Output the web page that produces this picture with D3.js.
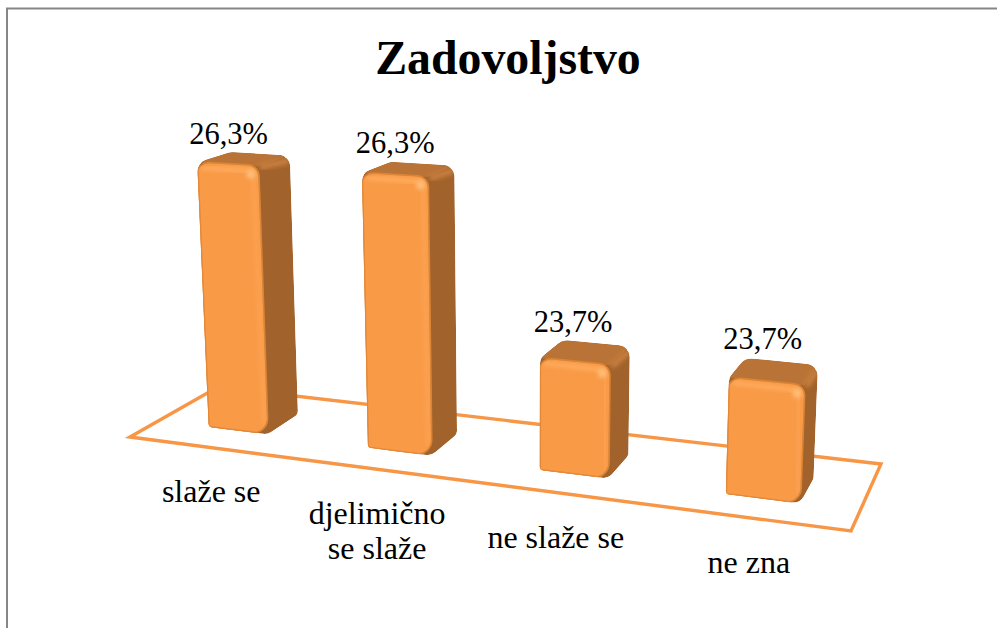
<!DOCTYPE html>
<html><head><meta charset="utf-8">
<script src="https://cdn.jsdelivr.net/npm/d3@7/dist/d3.min.js"></script>
<style>html,body{margin:0;padding:0;background:#fff}svg{display:block}text{font-family:"Liberation Serif",serif;fill:#000}</style>
</head><body><svg id="c" width="997" height="628"></svg>
<script>
const titleText = "Zadovoljstvo";
const categories = ["slaže se", "djelimično se slaže", "ne slaže se", "ne zna"];
const categoryLines = [["slaže se"], ["djelimično", "se slaže"], ["ne slaže se"], ["ne zna"]];
const values = [26.3, 26.3, 23.7, 23.7];
const valueLabels = ["26,3%", "26,3%", "23,7%", "23,7%"];

const svg = d3.select("#c");
const W = 997, H = 628;
const ORANGE = "#F79646", SIDE = "#A1622B", TOP = "#BA7336", LIGHT = "#FFAE60";

// frame: only top and left edges fall in the picture
svg.append("path").attr("d", `M7,${H}V8.5H${W}`).attr("fill", "none").attr("stroke", "#868686").attr("stroke-width", 2);

// floor projection: unit square (u along categories, v into depth) -> picture
const wOf = (u, v) => 1 - 0.1456 * u + 0.0941 * v;
function floorPt(u, v) {
  const w = wOf(u, v);
  return [(597.1 * u + 108.5 * v + 130) / w, (16.7 * u - 13.6 * v + 437) / w];
}
function project(u, v, h) {
  const [x, y] = floorPt(u, v);
  const hh = h / wOf(u, v);
  return [x + (x - 530) * 0.000135 * hh, y - hh];
}

const uScale = d3.scaleBand().domain(categories).range([0.082, 0.926]).paddingInner(0.624);
const vFront = d3.scaleLinear().domain([0, 1]).range([0.31, 0.27]);
const barDepth = 0.38;
const hScale = d3.scaleLinear().domain([22.03, 26.3]).range([0, 269]);

// floor outline
svg.append("path")
  .attr("d", d3.line()([floorPt(0,0), floorPt(1,0), floorPt(1,1), floorPt(0,1)]) + "Z")
  .attr("fill", "none").attr("stroke", ORANGE).attr("stroke-width", 3.4).attr("stroke-linejoin", "miter");

function rounded(pts, radii) {
  const p = d3.path(), n = pts.length;
  const a = pts[0], b = pts[1];
  p.moveTo((a[0] + b[0]) / 2, (a[1] + b[1]) / 2);
  for (let i = 1; i <= n; i++) {
    const c = pts[i % n], d = pts[(i + 1) % n];
    p.arcTo(c[0], c[1], d[0], d[1], radii[i % n]);
  }
  p.closePath();
  return p.toString();
}

const defs = svg.append("defs");
defs.append("filter").attr("id", "soft").attr("x", "-30%").attr("y", "-30%").attr("width", "160%").attr("height", "160%")
  .append("feGaussianBlur").attr("stdDeviation", 2.2);
defs.append("filter").attr("id", "soft1").attr("x", "-30%").attr("y", "-30%").attr("width", "160%").attr("height", "160%")
  .append("feGaussianBlur").attr("stdDeviation", 0.7);

categories.forEach((cat, i) => {
  const u0 = uScale(cat), u1 = u0 + uScale.bandwidth();
  const v0 = vFront(u0), v1 = v0 + barDepth;
  const h = hScale(values[i]);
  const fl = project(u0, v0, h), fr = project(u1, v0, h), bl = project(u0, v1, h), br = project(u1, v1, h);
  const flb = floorPt(u0, v0), frb = floorPt(u1, v0), brb = floorPt(u1, v1);
  const g = svg.append("g");

  const sil = [flb, frb, brb, br, bl, fl];
  const silD = rounded(sil, [4, 12, 7, 12, 14, 12]);
  const clipS = defs.append("clipPath").attr("id", "s" + i);
  clipS.append("path").attr("d", silD);
  const clipF = defs.append("clipPath").attr("id", "f" + i);
  const frontD = rounded([flb, frb, fr, fl], [4, 14, 11, 11]);
  clipF.append("path").attr("d", frontD);

  const body = g.append("g").attr("clip-path", `url(#s${i})`);
  body.append("path").attr("d", silD).attr("fill", SIDE);
  body.append("path").attr("d", d3.line()([fl, fr, br, bl]) + "Z").attr("fill", TOP);
  // lighter strip where the top meets the side
  body.append("path").attr("d", d3.line()([[fr[0] + 2, fr[1] + 1], [br[0] - 1, br[1] + 5]]))
    .attr("stroke", "#C9803F").attr("stroke-width", 6).attr("fill", "none").attr("filter", "url(#soft)");
  // soft shoulder around the front face
  body.append("path").attr("d", frontD).attr("fill", "none").attr("stroke", "#D98537").attr("stroke-width", 3).attr("filter", "url(#soft1)");

  const face = g.append("g").attr("clip-path", `url(#f${i})`);
  face.append("path").attr("d", frontD).attr("fill", "#F99A47");
  // darker rim along the bottom and left
  face.append("path").attr("d", d3.line()([fl, flb, frb]))
    .attr("fill", "none").attr("stroke", "#E48839").attr("stroke-width", 2.5).attr("filter", "url(#soft1)");
  // bevel highlights
  face.append("path").attr("d", d3.line()([[fl[0] + 4, fl[1] + 5], [fr[0] - 5, fr[1] + 5]]))
    .attr("fill", "none").attr("stroke", LIGHT).attr("stroke-width", 4).attr("filter", "url(#soft)");
  face.append("path").attr("d", d3.line()([[fr[0] - 5, fr[1] + 5], [frb[0] - 3, frb[1] - 10]]))
    .attr("fill", "none").attr("stroke", LIGHT).attr("stroke-width", 3).attr("stroke-opacity", .55).attr("filter", "url(#soft)");
  face.append("circle").attr("cx", fr[0] - 7).attr("cy", fr[1] + 8).attr("r", 4.5)
    .attr("fill", "#FFC07A").attr("filter", "url(#soft)");

  // value label
  const lab = project(u0 + uScale.bandwidth() * 0.5, v1, h);
  svg.append("text").attr("x", lab[0] - 31.5 + i * 4.3).attr("y", lab[1] - 10 - i * 0.8)
    .attr("text-anchor", "middle").attr("font-size", 30.5).text(valueLabels[i]);

  // category label
  const base = floorPt(u0 + uScale.bandwidth() / 2, 0.24);
  const t = svg.append("text").attr("text-anchor", "middle").attr("font-size", 32);
  categoryLines[i].forEach((ln, k) => {
    t.append("tspan").attr("x", base[0] - 21 + i * 2.9).attr("y", base[1] + 68 + i * 1.2 + k * 35).text(ln);
  });
});

svg.append("text").attr("x", 508).attr("y", 74).attr("text-anchor", "middle")
  .attr("font-size", 47.8).attr("font-weight", "bold").text(titleText);
</script></body></html>
